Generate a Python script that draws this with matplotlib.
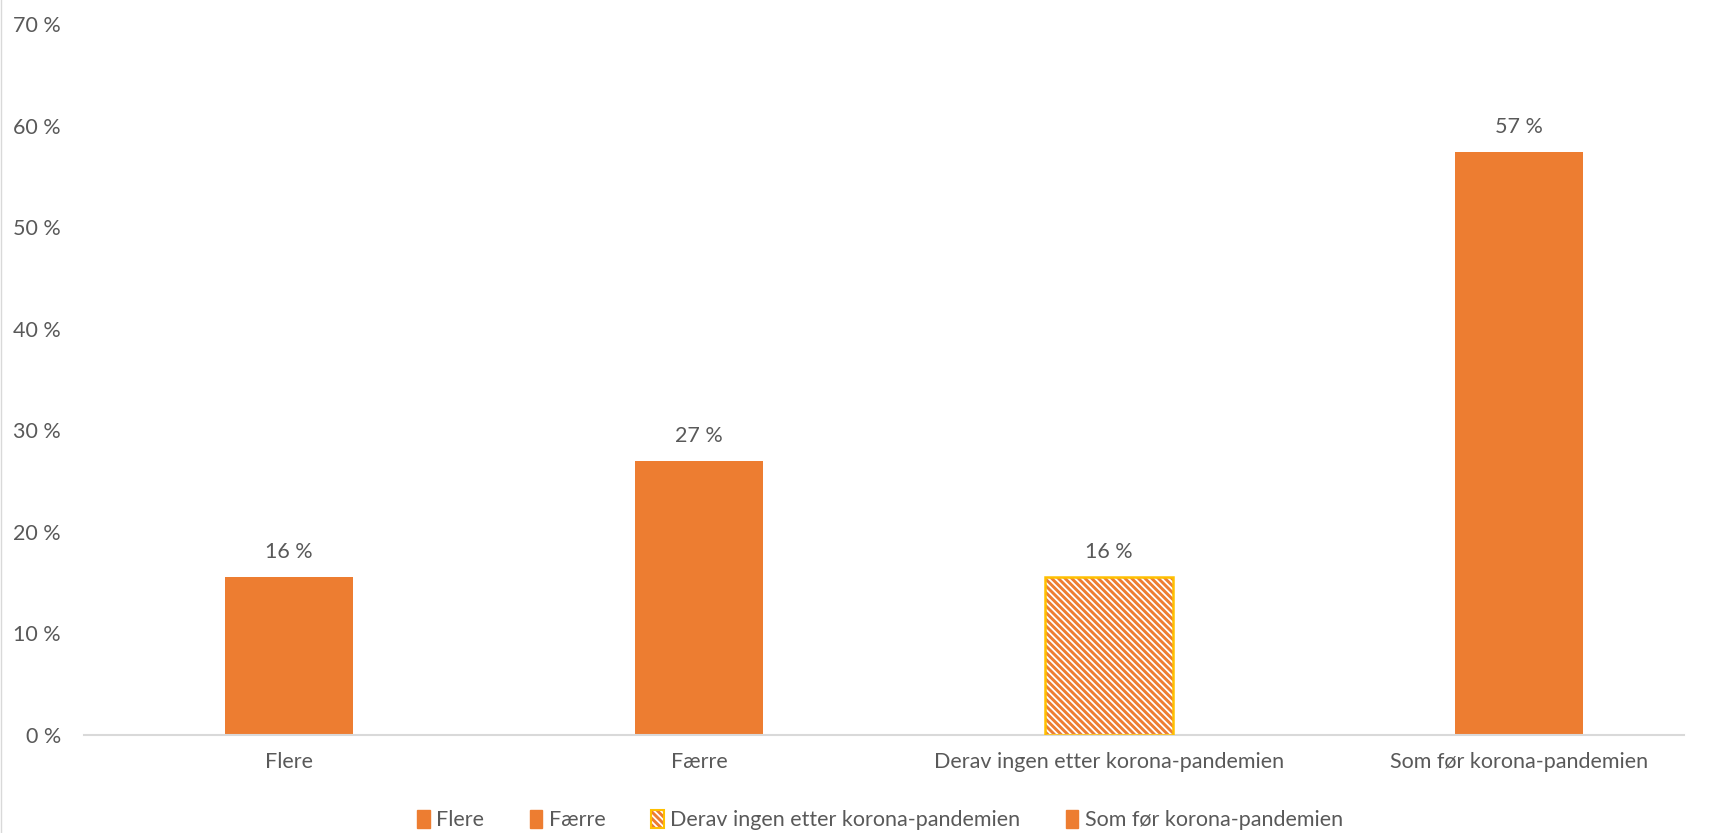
import matplotlib
matplotlib.use("Agg")
import matplotlib.pyplot as plt
from matplotlib.patches import Patch
from matplotlib.lines import Line2D

categories = ["Flere", "Færre", "Derav ingen etter korona-pandemien", "Som før korona-pandemien"]
values = [15.6, 27.0, 15.6, 57.4]
labels = ["16 %", "27 %", "16 %", "57 %"]
yticks = [0, 10, 20, 30, 40, 50, 60, 70]
ytick_labels = ["0 %", "10 %", "20 %", "30 %", "40 %", "50 %", "60 %", "70 %"]

ORANGE = "#ED7D31"
GOLD = "#FFC000"
TXT = "#595959"
HATCH = "\\" * 5

plt.rcParams['font.family'] = ['Lato', 'DejaVu Sans']
plt.rcParams['hatch.linewidth'] = 2.1

W, H = 1709, 833
fig = plt.figure(figsize=(W / 100, H / 100), dpi=100)
left_px, right_px = 84, 1724
ax = fig.add_axes([left_px / W, 1 - 735 / H, (right_px - left_px) / W, (735 - 24) / H])

FS = 15.5
x = list(range(len(categories)))
w = 0.311
for i, (xi, v) in enumerate(zip(x, values)):
    if i == 2:
        ax.bar(xi, v, width=w, facecolor="white", edgecolor=ORANGE, hatch=HATCH, linewidth=0, zorder=2)
        ax.bar(xi, v, width=w, fill=False, edgecolor=GOLD, linewidth=1.8, zorder=3)
    else:
        ax.bar(xi, v, width=w, color=ORANGE, zorder=2)
    ax.annotate(labels[i], (xi, v), xytext=(0, 18), textcoords="offset points",
                ha="center", va="center", fontsize=FS, color=TXT)

ax.set_xlim(-0.5, 3.5)
ax.set_ylim(0, 70)
ax.set_yticks(yticks)
ax.set_yticklabels(ytick_labels)
ax.set_xticks(x)
ax.set_xticklabels(categories)
ax.tick_params(axis="both", length=0, labelsize=FS, colors=TXT)
ax.tick_params(axis="y", pad=16.5)
ax.tick_params(axis="x", pad=12)
for s in ["top", "right", "left"]:
    ax.spines[s].set_visible(False)
ax.spines["bottom"].set_color("#D9D9D9")
ax.spines["bottom"].set_linewidth(1.5)
ax.spines["bottom"].set_bounds(-0.5, (1684 - left_px) / ((right_px - left_px) / 4) - 0.5)

handles = [
    Patch(facecolor=ORANGE, edgecolor=ORANGE),
    Patch(facecolor=ORANGE, edgecolor=ORANGE),
    (Patch(facecolor="white", edgecolor=ORANGE, hatch=HATCH, linewidth=0),
     Patch(fill=False, edgecolor=GOLD, linewidth=1.5)),
    Patch(facecolor=ORANGE, edgecolor=ORANGE),
]
leg = fig.legend(handles, categories, loc="center", bbox_to_anchor=(880 / W, 1 - 820 / H),
                 ncol=4, frameon=False, fontsize=FS, handlelength=0.6, handleheight=0.9,
                 handletextpad=0.3, columnspacing=2.1, labelcolor=TXT)

fig.add_artist(Line2D([0.0008, 0.0008], [0, 1], transform=fig.transFigure, color="#D9D9D9", linewidth=1))

fig.savefig("out.png", dpi=100, facecolor="white")
